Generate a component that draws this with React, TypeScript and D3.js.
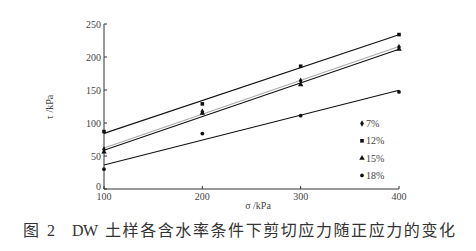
import React from "react";
import * as d3 from "d3";

const sigma = [100, 200, 300, 400];
const tau7 = [60, 117, 164, 215];
const tau12 = [87, 129, 186, 234];
const tau15 = [56, 115, 158, 212];
const tau18 = [30, 84, 111, 147];
const seriesNames = ["7%", "12%", "15%", "18%"];
const xTicks = [100, 200, 300, 400];
const yTicks = [0, 50, 100, 150, 200, 250];

const W = 476, H = 251;
const x = d3.scaleLinear().domain([100, 400]).range([104, 399]);
const y = d3.scaleLinear().domain([0, 250]).range([189, 24]);

function fit(xs: number[], ys: number[]) {
  const mx = d3.mean(xs)!, my = d3.mean(ys)!;
  let num = 0, den = 0;
  xs.forEach((v, i) => { num += (v - mx) * (ys[i] - my); den += (v - mx) ** 2; });
  const b = num / den;
  const a = my - b * mx;
  return (v: number) => a + b * v;
}

const symbols = [d3.symbolDiamond, d3.symbolSquare, d3.symbolTriangle, d3.symbolCircle];
const symSizes = [12, 13, 13, 11];
const allSeries = [tau7, tau12, tau15, tau18];
const lineColors = ["#aaa", "#111", "#111", "#111"];

export default function App() {
  const font = "'Liberation Serif', 'DejaVu Serif', serif";
  return (
    <svg width={W} height={H} style={{ position: "absolute", left: 0, top: 0, background: "#fff" }}>
      {/* axes */}
      <line x1={x(100)} x2={x(100)} y1={y(0)} y2={y(250)} stroke="#333" strokeWidth={1} />
      <line x1={x(100)} x2={x(400)} y1={y(0)} y2={y(0)} stroke="#333" strokeWidth={1} />
      {yTicks.map((t) => (
        <g key={"y" + t}>
          <line x1={x(100)} x2={x(100) + 3} y1={y(t)} y2={y(t)} stroke="#333" />
          <text x={x(100) - 3} y={t === 0 ? y(t) + 1 : y(t) + 3.5} fontSize={10} fontFamily={font} fill="#444" textAnchor="end">{t}</text>
        </g>
      ))}
      {xTicks.map((t) => (
        <g key={"x" + t}>
          <line x1={x(t)} x2={x(t)} y1={y(0)} y2={y(0) - 3} stroke="#333" />
          <text x={x(t)} y={y(0) + 11} fontSize={10} fontFamily={font} fill="#444" textAnchor="middle">{t}</text>
        </g>
      ))}
      <text x={258} y={209} fontSize={10} fontFamily={font} fill="#444" textAnchor="middle">σ /kPa</text>
      <text transform={`translate(53,107) rotate(-90)`} fontSize={10} fontFamily={font} fill="#444" textAnchor="middle">τ /kPa</text>
      {/* fit lines */}
      {allSeries.map((s, i) => {
        const f = fit(sigma, s);
        return (
          <line key={"fl" + i} x1={x(100)} y1={y(f(100))} x2={x(400)} y2={y(f(400))} stroke={lineColors[i]} strokeWidth={1.1} />
        );
      })}
      {/* markers */}
      {allSeries.map((s, i) =>
        s.map((v, j) => (
          <path key={`m${i}-${j}`} d={d3.symbol(symbols[i], symSizes[i])()!} transform={`translate(${x(sigma[j])},${y(v)})`} fill="#111" />
        ))
      )}
      {/* legend */}
      {seriesNames.map((n, i) => (
        <g key={"lg" + n} transform={`translate(362,${123.5 + i * 17.3})`}>
          <path d={d3.symbol(symbols[i], symSizes[i])()!} fill="#111" />
          <text x={4} y={3.5} fontSize={10} fontFamily={font} fill="#444">{n}</text>
        </g>
      ))}
      {/* caption */}
      <text y={236} fontSize={16} fill="#333" fontFamily="'Noto Sans CJK SC', sans-serif">
        <tspan x={23}>图</tspan>
        <tspan x={47} fontFamily={font}>2</tspan>
        <tspan x={72} fontFamily={font} textLength={26} lengthAdjust="spacing">DW</tspan>
        <tspan x={105} textLength={350} lengthAdjust="spacing">土样各含水率条件下剪切应力随正应力的变化</tspan>
      </text>
    </svg>
  );
}
